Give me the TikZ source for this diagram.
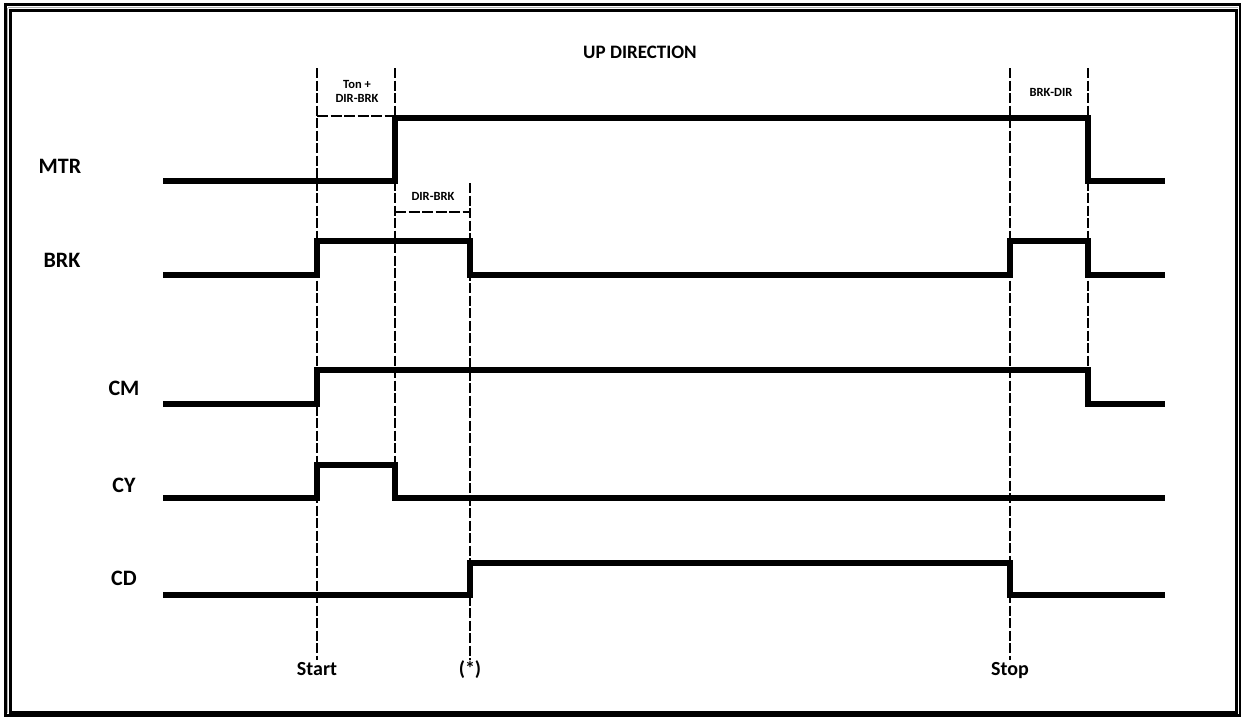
\documentclass[tikz,border=0pt]{standalone}
\usepackage{fontspec}
\setmainfont{Carlito}
\usetikzlibrary{positioning}
\usetikzlibrary{calc}

\begin{document}
\begin{tikzpicture}[x=1pt,y=-1pt,
      wave/.style={line width=5.5pt,line join=miter},
      guide/.style={line width=2.6pt,dash pattern=on 10pt off 2.5pt},
      span/.style={line width=2.8pt,dash pattern=on 11pt off 2.5pt},
      signame/.style={font=\fontsize{22}{24}\selectfont\bfseries},
      timename/.style={font=\fontsize{20}{22}\selectfont\bfseries,text height=13pt,text depth=4pt,inner sep=2pt},
      note/.style={font=\fontsize{12.5}{14}\selectfont\bfseries,align=center}]
    \useasboundingbox (0,0) rectangle (1241,717);
    \draw[line width=3pt] (5,5) rectangle (1240,715.5);
    \draw[gray!60,line width=0.8pt] (7.8,7.8) -- (7.8,713) (7.8,7.8) -- (1238,7.8);
    \draw[line width=2.2pt] (10.5,10.5) rectangle (1236.5,712.5);
    \node[font=\fontsize{19}{21}\selectfont\bfseries] (title) at (640,52) {UP DIRECTION};
    \node[signame] (mtr) at (60,166) {MTR};
    \node[signame] (brk) at (62,260) {BRK};
    \node[signame] (cm) at (124,388) {CM};
    \node[signame] (cy) at (124,485) {CY};
    \node[signame] (cd) at (124,578) {CD};
    \node[timename] (start) at (317,671) {Start};
    \node[timename] (star) at (470,671) {(*)};
    \node[timename] (stop) at (1010,671) {Stop};
    \node[note] (ton) at (357,91) {Ton +\\DIR-BRK};
    \node[note] (dirbrk) at (433,196) {DIR-BRK};
    \node[note] (brkdir) at (1051,92) {BRK-DIR};
    \draw[guide] (317,68) -- (start.north);
    \draw[guide] (395,68) -- (395,465);
    \draw[guide] (470,183) -- (star.north);
    \draw[guide] (1010,68) -- (stop.north);
    \draw[guide] (1088,68) -- (1088,370);
    \draw[span] (317,116) -- (395,116);
    \draw[span] (395,212) -- (470,212);
    \draw[span] (1010,116) -- (1088,116);
    \draw[wave] (163,181) -- (395,181) -- (395,118) -- (1088,118) -- (1088,181) -- (1165,181);
    \draw[wave] (163,275) -- (317,275) -- (317,241) -- (470,241) -- (470,275) -- (1010,275)
      -- (1010,241) -- (1088,241) -- (1088,275) -- (1165,275);
    \draw[wave] (163,404) -- (317,404) -- (317,370) -- (1088,370) -- (1088,404) -- (1165,404);
    \draw[wave] (163,498) -- (317,498) -- (317,465) -- (395,465) -- (395,498) -- (1165,498);
    \draw[wave] (163,595) -- (470,595) -- (470,563) -- (1010,563) -- (1010,595) -- (1165,595);
  \end{tikzpicture}
\end{document}
